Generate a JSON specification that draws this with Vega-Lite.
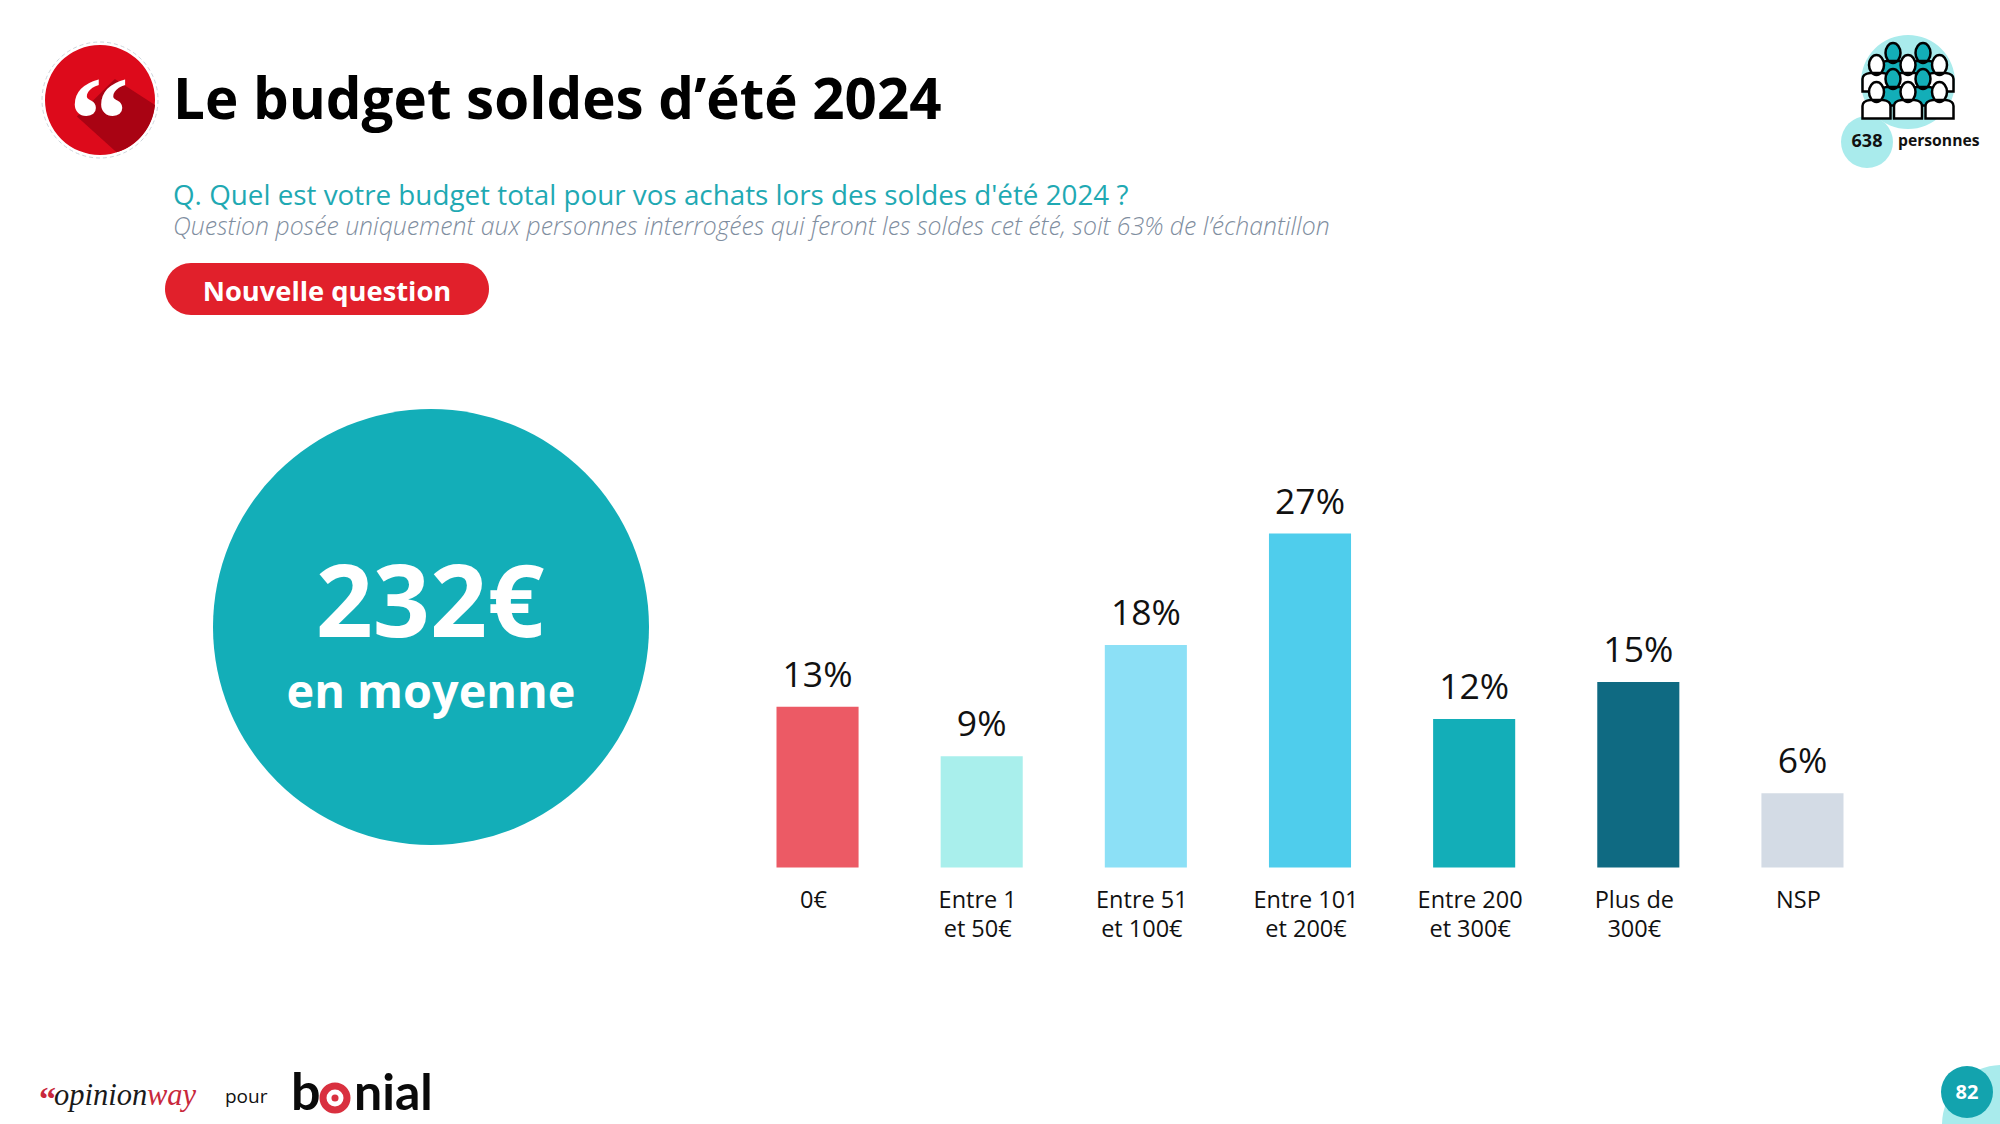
{"$schema":"https://vega.github.io/schema/vega-lite/v6.json","width":2000,"height":1124,"autosize":{"type":"fit","contains":"padding"},"padding":0,"background":"#ffffff","config":{"view":{"stroke":null},"font":"Open Sans"},
"data":{"values":[{"cat":"0€","label":"0€","pct":13},{"cat":"Entre 1 et 50€","label":"Entre 1|et 50€","pct":9},{"cat":"Entre 51 et 100€","label":"Entre 51|et 100€","pct":18},{"cat":"Entre 101 et 200€","label":"Entre 101|et 200€","pct":27},{"cat":"Entre 200 et 300€","label":"Entre 200|et 300€","pct":12},{"cat":"Plus de 300€","label":"Plus de|300€","pct":15},{"cat":"NSP","label":"NSP","pct":6}]},
"layer":[
{"data":{"values":[{}]},"mark":{"type":"point","shape":"circle","filled":true,"opacity":1,"fill":"#13AEB8","size":190100},"encoding":{"x":{"value":431},"y":{"value":627}}},
{"mark":{"type":"bar"},"encoding":{
"x":{"field":"cat","type":"nominal","sort":null,"axis":null,"scale":{"range":[776.5,1843.5],"paddingInner":0.5,"paddingOuter":0}},
"y":{"field":"pct","type":"quantitative","axis":null,"scale":{"domain":[0,30],"range":[867.5,496.5],"nice":false}},
"color":{"field":"cat","type":"nominal","sort":null,"legend":null,"scale":{"domain":["0€","Entre 1 et 50€","Entre 51 et 100€","Entre 101 et 200€","Entre 200 et 300€","Plus de 300€","NSP"],"range":["#EC5A65","#A9EFEC","#8CE0F6","#4FCDEC","#13AEB8","#0F6A82","#D3DBE5"]}}}},
{"transform":[{"calculate":"datum.pct+'%'","as":"lab"}],"mark":{"type":"text","fontSize":35.5,"dy":-20,"baseline":"alphabetic","color":"#111111","font":"Open Sans"},"encoding":{"x":{"field":"cat","type":"nominal","sort":null},"y":{"field":"pct","type":"quantitative"},"text":{"field":"lab"}}},
{"mark":{"type":"text","fontSize":23.5,"dx":-4,"dy":40,"baseline":"alphabetic","lineBreak":"|","lineHeight":29,"color":"#111111","font":"Open Sans"},"encoding":{"x":{"field":"cat","type":"nominal","sort":null},"y":{"datum":0,"type":"quantitative"},"text":{"field":"label"}}},
{"data":{"values":[{"t":"232€"}]},"mark":{"type":"text","fontSize":100,"fontWeight":"bold","color":"#ffffff","align":"center","baseline":"alphabetic"},"encoding":{"x":{"value":430},"y":{"value":637},"text":{"field":"t"}}},
{"data":{"values":[{"t":"en moyenne"}]},"mark":{"type":"text","fontSize":46.8,"fontWeight":"bold","color":"#ffffff","align":"center","baseline":"alphabetic"},"encoding":{"x":{"value":431},"y":{"value":708},"text":{"field":"t"}}},
{"data":{"values":[{}]},"mark":{"type":"point","shape":"circle","filled":false,"opacity":1,"stroke":"#cfd6dc","strokeWidth":1,"strokeDash":[4,3],"size":13456},"encoding":{"x":{"value":100},"y":{"value":100}}},
{"data":{"values":[{}]},"mark":{"type":"point","shape":"circle","filled":true,"opacity":1,"fill":"#DD0A1B","size":12100},"encoding":{"x":{"value":100},"y":{"value":100}}},
{"data":{"values":[{}]},"mark":{"type":"point","shape":"M.27,-.38L1,.09A1,1 0 0 1 .3,.95L-.42,.3Z","filled":true,"opacity":1,"fill":"#A90313","size":12100},"encoding":{"x":{"value":100},"y":{"value":100}}},
{"data":{"values":[{"t":"“"}]},"mark":{"type":"text","font":"Liberation Serif","fontWeight":"bold","fontSize":120,"color":"#ffffff","align":"center","baseline":"alphabetic"},"encoding":{"x":{"value":99},"y":{"value":160},"text":{"field":"t"}}},
{"data":{"values":[{"t":"Le budget soldes d’été 2024"}]},"mark":{"type":"text","fontSize":56.5,"fontWeight":"bold","color":"#000000","align":"left","baseline":"alphabetic"},"encoding":{"x":{"value":173},"y":{"value":119},"text":{"field":"t"}}},
{"data":{"values":[{"t":"Q. Quel est votre budget total pour vos achats lors des soldes d'été 2024 ?"}]},"mark":{"type":"text","fontSize":27.8,"color":"#1FA9B3","align":"left","baseline":"alphabetic"},"encoding":{"x":{"value":173},"y":{"value":205},"text":{"field":"t"}}},
{"data":{"values":[{"t":"Question posée uniquement aux personnes interrogées qui feront les soldes cet été, soit 63% de l’échantillon"}]},"mark":{"type":"text","fontSize":24.8,"fontStyle":"italic","fontWeight":300,"color":"#7F8EA0","align":"left","baseline":"alphabetic"},"encoding":{"x":{"value":173},"y":{"value":235},"text":{"field":"t"}}},
{"data":{"values":[{}]},"mark":{"type":"rect","fill":"#E1202B","cornerRadius":26},"encoding":{"x":{"value":165},"x2":{"value":489},"y":{"value":263},"y2":{"value":315}}},
{"data":{"values":[{"t":"Nouvelle question"}]},"mark":{"type":"text","fontSize":27.3,"fontWeight":"bold","color":"#ffffff","align":"center","baseline":"alphabetic"},"encoding":{"x":{"value":327},"y":{"value":301},"text":{"field":"t"}}},
{"data":{"values":[{}]},"mark":{"type":"point","shape":"circle","filled":true,"opacity":1,"fill":"#A9EBEC","size":8836},"encoding":{"x":{"value":1908},"y":{"value":82}}},
{"data":{"values":[{}]},"mark":{"type":"point","shape":"circle","filled":true,"opacity":1,"fill":"#A9EBEC","size":2704},"encoding":{"x":{"value":1867},"y":{"value":142}}},
{"data":{"values":[{}]},"mark":{"type":"point","shape":"M-.45,-.66A.15,.2 0 1 1 -.15,-.66A.15,.2 0 1 1 -.45,-.66ZM-.58,-.13L-.58,-.38Q-.58,-.48 -.43,-.5L-.17,-.5Q-.02,-.48 -.02,-.38L-.02,-.13ZM.15,-.66A.15,.2 0 1 1 .45,-.66A.15,.2 0 1 1 .15,-.66ZM.02,-.13L.02,-.38Q.02,-.48 .17,-.5L.43,-.5Q.58,-.48 .58,-.38L.58,-.13Z","filled":true,"opacity":1,"fill":"#13AEB8","stroke":"#000000","strokeWidth":2.5,"size":10000},"encoding":{"x":{"value":1908},"y":{"value":86}}},
{"data":{"values":[{}]},"mark":{"type":"point","shape":"M-.78,-.42A.15,.2 0 1 1 -.48,-.42A.15,.2 0 1 1 -.78,-.42ZM-.91,.11L-.91,-.14Q-.91,-.24 -.76,-.26L-.5,-.26Q-.35,-.24 -.35,-.14L-.35,.11ZM-.15,-.42A.15,.2 0 1 1 .15,-.42A.15,.2 0 1 1 -.15,-.42ZM-.28,.11L-.28,-.14Q-.28,-.24 -.13,-.26L.13,-.26Q.28,-.24 .28,-.14L.28,.11ZM.48,-.42A.15,.2 0 1 1 .78,-.42A.15,.2 0 1 1 .48,-.42ZM.35,.11L.35,-.14Q.35,-.24 .5,-.26L.76,-.26Q.91,-.24 .91,-.14L.91,.11Z","filled":true,"opacity":1,"fill":"#ffffff","stroke":"#000000","strokeWidth":2.5,"size":10000},"encoding":{"x":{"value":1908},"y":{"value":86}}},
{"data":{"values":[{}]},"mark":{"type":"point","shape":"M-.45,-.14A.15,.2 0 1 1 -.15,-.14A.15,.2 0 1 1 -.45,-.14ZM-.58,.39L-.58,.14Q-.58,.04 -.43,.02L-.17,.02Q-.02,.04 -.02,.14L-.02,.39ZM.15,-.14A.15,.2 0 1 1 .45,-.14A.15,.2 0 1 1 .15,-.14ZM.02,.39L.02,.14Q.02,.04 .17,.02L.43,.02Q.58,.04 .58,.14L.58,.39Z","filled":true,"opacity":1,"fill":"#13AEB8","stroke":"#000000","strokeWidth":2.5,"size":10000},"encoding":{"x":{"value":1908},"y":{"value":86}}},
{"data":{"values":[{}]},"mark":{"type":"point","shape":"M-.78,.12A.15,.2 0 1 1 -.48,.12A.15,.2 0 1 1 -.78,.12ZM-.91,.65L-.91,.4Q-.91,.3 -.76,.28L-.5,.28Q-.35,.3 -.35,.4L-.35,.65ZM-.15,.12A.15,.2 0 1 1 .15,.12A.15,.2 0 1 1 -.15,.12ZM-.28,.65L-.28,.4Q-.28,.3 -.13,.28L.13,.28Q.28,.3 .28,.4L.28,.65ZM.48,.12A.15,.2 0 1 1 .78,.12A.15,.2 0 1 1 .48,.12ZM.35,.65L.35,.4Q.35,.3 .5,.28L.76,.28Q.91,.3 .91,.4L.91,.65Z","filled":true,"opacity":1,"fill":"#ffffff","stroke":"#000000","strokeWidth":2.5,"size":10000},"encoding":{"x":{"value":1908},"y":{"value":86}}},
{"data":{"values":[{"t":"638"}]},"mark":{"type":"text","fontSize":18,"fontWeight":"bold","color":"#111111","align":"center","baseline":"alphabetic"},"encoding":{"x":{"value":1867},"y":{"value":147},"text":{"field":"t"}}},
{"data":{"values":[{"t":"personnes"}]},"mark":{"type":"text","fontSize":15.7,"fontWeight":"bold","color":"#111111","align":"left","baseline":"alphabetic"},"encoding":{"x":{"value":1898},"y":{"value":146},"text":{"field":"t"}}},
{"data":{"values":[{}]},"mark":{"type":"point","shape":"circle","filled":true,"opacity":1,"fill":"#A9EBEC","size":14400},"encoding":{"x":{"value":2002},"y":{"value":1125}}},
{"data":{"values":[{}]},"mark":{"type":"point","shape":"circle","filled":true,"opacity":1,"fill":"#13A3AE","size":2704},"encoding":{"x":{"value":1967},"y":{"value":1092}}},
{"data":{"values":[{"t":"82"}]},"mark":{"type":"text","fontSize":20,"fontWeight":"bold","color":"#ffffff","align":"center","baseline":"alphabetic"},"encoding":{"x":{"value":1967},"y":{"value":1099},"text":{"field":"t"}}},
{"data":{"values":[{"t":"“"}]},"mark":{"type":"text","font":"Liberation Serif","fontWeight":"bold","fontSize":34,"color":"#C8283C","align":"left","baseline":"alphabetic"},"encoding":{"x":{"value":39},"y":{"value":1110},"text":{"field":"t"}}},
{"data":{"values":[{"t":"opinion"}]},"mark":{"type":"text","font":"Liberation Serif","fontStyle":"italic","fontSize":30.5,"color":"#1a1a1a","align":"left","baseline":"alphabetic"},"encoding":{"x":{"value":54},"y":{"value":1105},"text":{"field":"t"}}},
{"data":{"values":[{"t":"way"}]},"mark":{"type":"text","font":"Liberation Serif","fontStyle":"italic","fontSize":30.5,"color":"#C8283C","align":"left","baseline":"alphabetic"},"encoding":{"x":{"value":147},"y":{"value":1105},"text":{"field":"t"}}},
{"data":{"values":[{"t":"pour"}]},"mark":{"type":"text","fontSize":19,"color":"#111111","align":"left","baseline":"alphabetic"},"encoding":{"x":{"value":225},"y":{"value":1103},"text":{"field":"t"}}},
{"data":{"values":[{"t":"b"}]},"mark":{"type":"text","fontSize":52,"fontWeight":"bold","font":"Lato","color":"#0a0a0a","align":"left","baseline":"alphabetic"},"encoding":{"x":{"value":291},"y":{"value":1110},"text":{"field":"t"}}},
{"data":{"values":[{}]},"mark":{"type":"point","shape":"circle","filled":false,"opacity":1,"stroke":"#D9303F","strokeWidth":7,"size":576},"encoding":{"x":{"value":335},"y":{"value":1098}}},
{"data":{"values":[{}]},"mark":{"type":"point","shape":"circle","filled":true,"opacity":1,"fill":"#D9303F","size":50},"encoding":{"x":{"value":335},"y":{"value":1098}}},
{"data":{"values":[{"t":"nial"}]},"mark":{"type":"text","fontSize":50,"fontWeight":"bold","font":"Lato","color":"#0a0a0a","align":"left","baseline":"alphabetic"},"encoding":{"x":{"value":354},"y":{"value":1110},"text":{"field":"t"}}}
]}
